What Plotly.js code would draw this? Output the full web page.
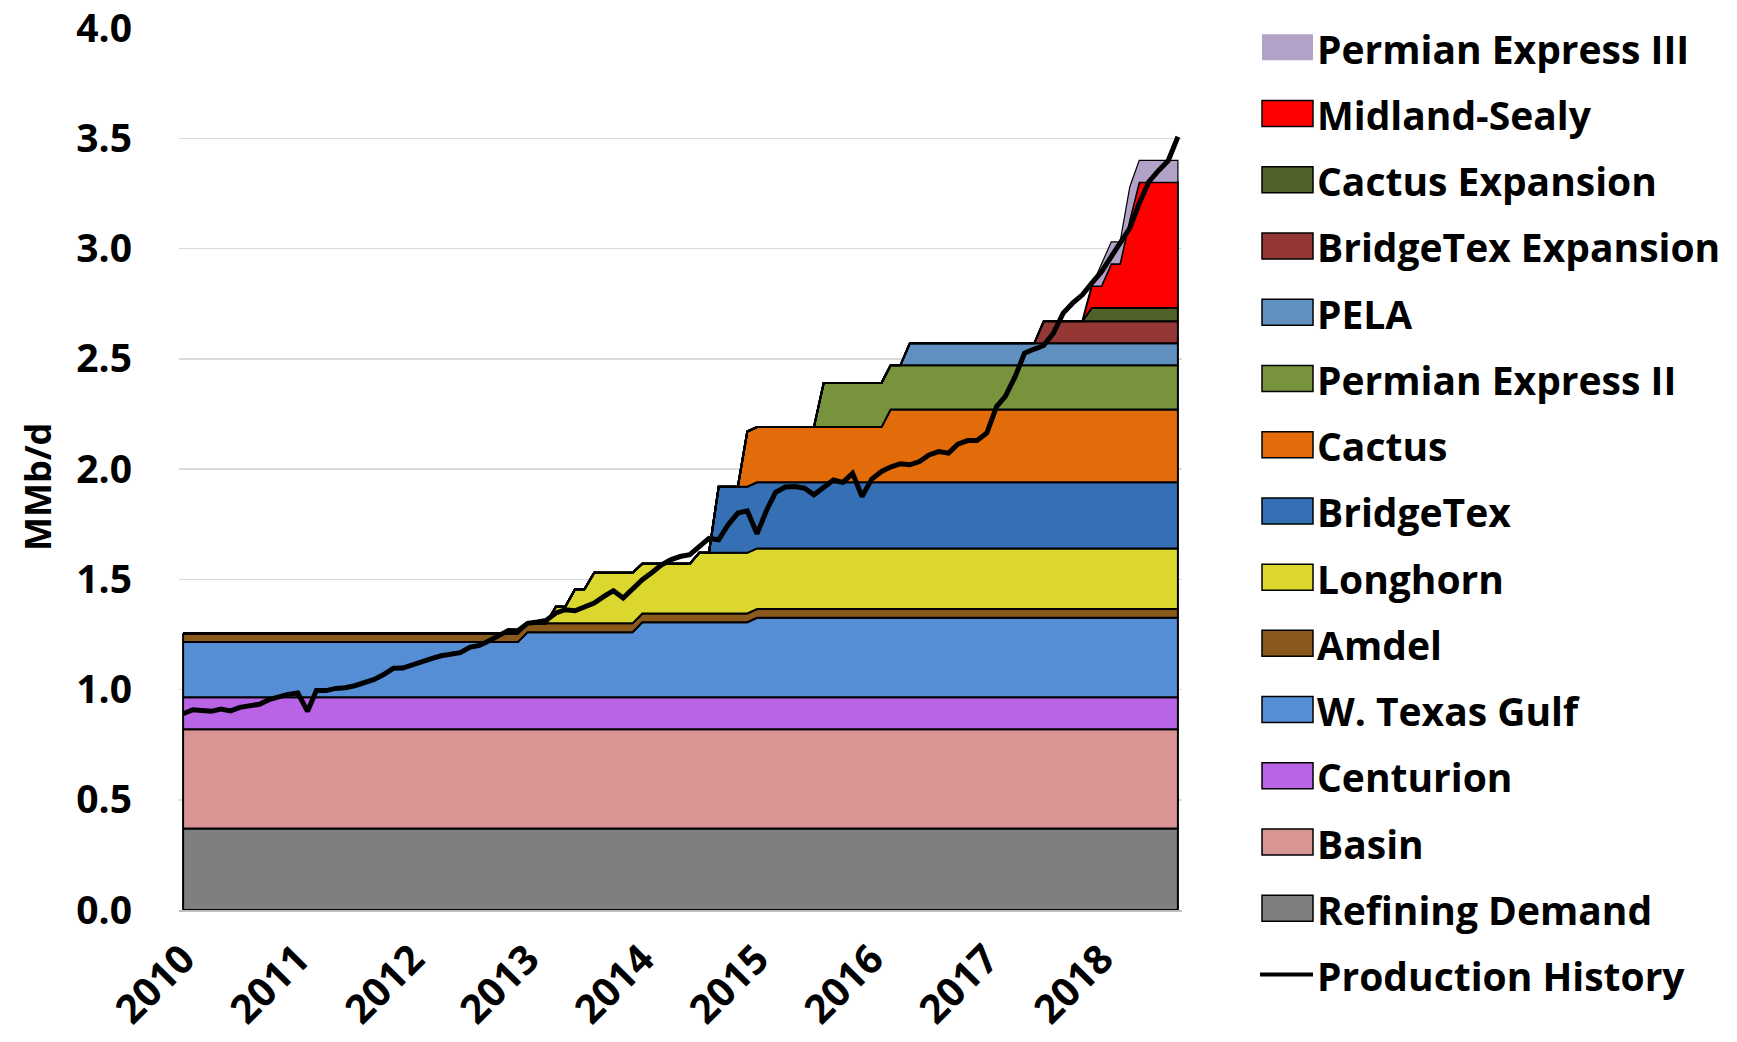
<!DOCTYPE html>
<html>
<head>
<meta charset="utf-8">
<script src="https://cdn.plot.ly/plotly-3.0.1.min.js"></script>
<style>
html,body{margin:0;padding:0;background:#ffffff;}
#chart{width:1737px;height:1042px;}
</style>
</head>
<body>
<div id="chart"></div>
<script>
// ---------- DATA (monthly, Jan 2010 - Sep 2018, MMb/d) ----------
const startYear = 2010;
const monthCount = 105;
const yearLabels = ['2010','2011','2012','2013','2014','2015','2016','2017','2018'];

const refiningDemand = [
 0.37,0.37,0.37,0.37,0.37,0.37,0.37,0.37,0.37,0.37,0.37,0.37,
 0.37,0.37,0.37,0.37,0.37,0.37,0.37,0.37,0.37,0.37,0.37,0.37,
 0.37,0.37,0.37,0.37,0.37,0.37,0.37,0.37,0.37,0.37,0.37,0.37,
 0.37,0.37,0.37,0.37,0.37,0.37,0.37,0.37,0.37,0.37,0.37,0.37,
 0.37,0.37,0.37,0.37,0.37,0.37,0.37,0.37,0.37,0.37,0.37,0.37,
 0.37,0.37,0.37,0.37,0.37,0.37,0.37,0.37,0.37,0.37,0.37,0.37,
 0.37,0.37,0.37,0.37,0.37,0.37,0.37,0.37,0.37,0.37,0.37,0.37,
 0.37,0.37,0.37,0.37,0.37,0.37,0.37,0.37,0.37,0.37,0.37,0.37,
 0.37,0.37,0.37,0.37,0.37,0.37,0.37,0.37,0.37];

const basin = [
 0.45,0.45,0.45,0.45,0.45,0.45,0.45,0.45,0.45,0.45,0.45,0.45,
 0.45,0.45,0.45,0.45,0.45,0.45,0.45,0.45,0.45,0.45,0.45,0.45,
 0.45,0.45,0.45,0.45,0.45,0.45,0.45,0.45,0.45,0.45,0.45,0.45,
 0.45,0.45,0.45,0.45,0.45,0.45,0.45,0.45,0.45,0.45,0.45,0.45,
 0.45,0.45,0.45,0.45,0.45,0.45,0.45,0.45,0.45,0.45,0.45,0.45,
 0.45,0.45,0.45,0.45,0.45,0.45,0.45,0.45,0.45,0.45,0.45,0.45,
 0.45,0.45,0.45,0.45,0.45,0.45,0.45,0.45,0.45,0.45,0.45,0.45,
 0.45,0.45,0.45,0.45,0.45,0.45,0.45,0.45,0.45,0.45,0.45,0.45,
 0.45,0.45,0.45,0.45,0.45,0.45,0.45,0.45,0.45];

const centurion = [
 0.145,0.145,0.145,0.145,0.145,0.145,0.145,0.145,0.145,0.145,0.145,0.145,
 0.145,0.145,0.145,0.145,0.145,0.145,0.145,0.145,0.145,0.145,0.145,0.145,
 0.145,0.145,0.145,0.145,0.145,0.145,0.145,0.145,0.145,0.145,0.145,0.145,
 0.145,0.145,0.145,0.145,0.145,0.145,0.145,0.145,0.145,0.145,0.145,0.145,
 0.145,0.145,0.145,0.145,0.145,0.145,0.145,0.145,0.145,0.145,0.145,0.145,
 0.145,0.145,0.145,0.145,0.145,0.145,0.145,0.145,0.145,0.145,0.145,0.145,
 0.145,0.145,0.145,0.145,0.145,0.145,0.145,0.145,0.145,0.145,0.145,0.145,
 0.145,0.145,0.145,0.145,0.145,0.145,0.145,0.145,0.145,0.145,0.145,0.145,
 0.145,0.145,0.145,0.145,0.145,0.145,0.145,0.145,0.145];

const wTexasGulf = [
 0.25,0.25,0.25,0.25,0.25,0.25,0.25,0.25,0.25,0.25,0.25,0.25,
 0.25,0.25,0.25,0.25,0.25,0.25,0.25,0.25,0.25,0.25,0.25,0.25,
 0.25,0.25,0.25,0.25,0.25,0.25,0.25,0.25,0.25,0.25,0.25,0.25,
 0.295,0.295,0.295,0.295,0.295,0.295,0.295,0.295,0.295,0.295,0.295,0.295,
 0.34,0.34,0.34,0.34,0.34,0.34,0.34,0.34,0.34,0.34,0.34,0.34,
 0.36,0.36,0.36,0.36,0.36,0.36,0.36,0.36,0.36,0.36,0.36,0.36,
 0.36,0.36,0.36,0.36,0.36,0.36,0.36,0.36,0.36,0.36,0.36,0.36,
 0.36,0.36,0.36,0.36,0.36,0.36,0.36,0.36,0.36,0.36,0.36,0.36,
 0.36,0.36,0.36,0.36,0.36,0.36,0.36,0.36,0.36];

const amdel = [
 0.04,0.04,0.04,0.04,0.04,0.04,0.04,0.04,0.04,0.04,0.04,0.04,
 0.04,0.04,0.04,0.04,0.04,0.04,0.04,0.04,0.04,0.04,0.04,0.04,
 0.04,0.04,0.04,0.04,0.04,0.04,0.04,0.04,0.04,0.04,0.04,0.04,
 0.04,0.04,0.04,0.04,0.04,0.04,0.04,0.04,0.04,0.04,0.04,0.04,
 0.04,0.04,0.04,0.04,0.04,0.04,0.04,0.04,0.04,0.04,0.04,0.04,
 0.04,0.04,0.04,0.04,0.04,0.04,0.04,0.04,0.04,0.04,0.04,0.04,
 0.04,0.04,0.04,0.04,0.04,0.04,0.04,0.04,0.04,0.04,0.04,0.04,
 0.04,0.04,0.04,0.04,0.04,0.04,0.04,0.04,0.04,0.04,0.04,0.04,
 0.04,0.04,0.04,0.04,0.04,0.04,0.04,0.04,0.04];

const longhorn = [
 0,0,0,0,0,0,0,0,0,0,0,0,
 0,0,0,0,0,0,0,0,0,0,0,0,
 0,0,0,0,0,0,0,0,0,0,0,0,
 0,0,0,0.075,0.075,0.155,0.155,0.23,0.23,0.23,0.23,0.23,
 0.225,0.225,0.225,0.225,0.225,0.225,0.275,0.275,0.275,0.275,0.275,0.275,
 0.275,0.275,0.275,0.275,0.275,0.275,0.275,0.275,0.275,0.275,0.275,0.275,
 0.275,0.275,0.275,0.275,0.275,0.275,0.275,0.275,0.275,0.275,0.275,0.275,
 0.275,0.275,0.275,0.275,0.275,0.275,0.275,0.275,0.275,0.275,0.275,0.275,
 0.275,0.275,0.275,0.275,0.275,0.275,0.275,0.275,0.275];

const bridgeTex = [
 0,0,0,0,0,0,0,0,0,0,0,0,
 0,0,0,0,0,0,0,0,0,0,0,0,
 0,0,0,0,0,0,0,0,0,0,0,0,
 0,0,0,0,0,0,0,0,0,0,0,0,
 0,0,0,0,0,0,0,0,0.3,0.3,0.3,0.3,
 0.3,0.3,0.3,0.3,0.3,0.3,0.3,0.3,0.3,0.3,0.3,0.3,
 0.3,0.3,0.3,0.3,0.3,0.3,0.3,0.3,0.3,0.3,0.3,0.3,
 0.3,0.3,0.3,0.3,0.3,0.3,0.3,0.3,0.3,0.3,0.3,0.3,
 0.3,0.3,0.3,0.3,0.3,0.3,0.3,0.3,0.3];

const cactus = [
 0,0,0,0,0,0,0,0,0,0,0,0,
 0,0,0,0,0,0,0,0,0,0,0,0,
 0,0,0,0,0,0,0,0,0,0,0,0,
 0,0,0,0,0,0,0,0,0,0,0,0,
 0,0,0,0,0,0,0,0,0,0,0,0.25,
 0.25,0.25,0.25,0.25,0.25,0.25,0.25,0.25,0.25,0.25,0.25,0.25,
 0.25,0.25,0.33,0.33,0.33,0.33,0.33,0.33,0.33,0.33,0.33,0.33,
 0.33,0.33,0.33,0.33,0.33,0.33,0.33,0.33,0.33,0.33,0.33,0.33,
 0.33,0.33,0.33,0.33,0.33,0.33,0.33,0.33,0.33];

const permianExpressII = [
 0,0,0,0,0,0,0,0,0,0,0,0,
 0,0,0,0,0,0,0,0,0,0,0,0,
 0,0,0,0,0,0,0,0,0,0,0,0,
 0,0,0,0,0,0,0,0,0,0,0,0,
 0,0,0,0,0,0,0,0,0,0,0,0,
 0,0,0,0,0,0,0,0.2,0.2,0.2,0.2,0.2,
 0.2,0.2,0.2,0.2,0.2,0.2,0.2,0.2,0.2,0.2,0.2,0.2,
 0.2,0.2,0.2,0.2,0.2,0.2,0.2,0.2,0.2,0.2,0.2,0.2,
 0.2,0.2,0.2,0.2,0.2,0.2,0.2,0.2,0.2];

const pela = [
 0,0,0,0,0,0,0,0,0,0,0,0,
 0,0,0,0,0,0,0,0,0,0,0,0,
 0,0,0,0,0,0,0,0,0,0,0,0,
 0,0,0,0,0,0,0,0,0,0,0,0,
 0,0,0,0,0,0,0,0,0,0,0,0,
 0,0,0,0,0,0,0,0,0,0,0,0,
 0,0,0,0,0.1,0.1,0.1,0.1,0.1,0.1,0.1,0.1,
 0.1,0.1,0.1,0.1,0.1,0.1,0.1,0.1,0.1,0.1,0.1,0.1,
 0.1,0.1,0.1,0.1,0.1,0.1,0.1,0.1,0.1];

const bridgeTexExpansion = [
 0,0,0,0,0,0,0,0,0,0,0,0,
 0,0,0,0,0,0,0,0,0,0,0,0,
 0,0,0,0,0,0,0,0,0,0,0,0,
 0,0,0,0,0,0,0,0,0,0,0,0,
 0,0,0,0,0,0,0,0,0,0,0,0,
 0,0,0,0,0,0,0,0,0,0,0,0,
 0,0,0,0,0,0,0,0,0,0,0,0,
 0,0,0,0,0,0,0.1,0.1,0.1,0.1,0.1,0.1,
 0.1,0.1,0.1,0.1,0.1,0.1,0.1,0.1,0.1];

const cactusExpansion = [
 0,0,0,0,0,0,0,0,0,0,0,0,
 0,0,0,0,0,0,0,0,0,0,0,0,
 0,0,0,0,0,0,0,0,0,0,0,0,
 0,0,0,0,0,0,0,0,0,0,0,0,
 0,0,0,0,0,0,0,0,0,0,0,0,
 0,0,0,0,0,0,0,0,0,0,0,0,
 0,0,0,0,0,0,0,0,0,0,0,0,
 0,0,0,0,0,0,0,0,0,0,0,0.06,
 0.06,0.06,0.06,0.06,0.06,0.06,0.06,0.06,0.06];

const midlandSealy = [
 0,0,0,0,0,0,0,0,0,0,0,0,
 0,0,0,0,0,0,0,0,0,0,0,0,
 0,0,0,0,0,0,0,0,0,0,0,0,
 0,0,0,0,0,0,0,0,0,0,0,0,
 0,0,0,0,0,0,0,0,0,0,0,0,
 0,0,0,0,0,0,0,0,0,0,0,0,
 0,0,0,0,0,0,0,0,0,0,0,0,
 0,0,0,0,0,0,0,0,0,0,0,0.1,
 0.1,0.2,0.2,0.4,0.57,0.57,0.57,0.57,0.57];

const permianExpressIII = [
 0,0,0,0,0,0,0,0,0,0,0,0,
 0,0,0,0,0,0,0,0,0,0,0,0,
 0,0,0,0,0,0,0,0,0,0,0,0,
 0,0,0,0,0,0,0,0,0,0,0,0,
 0,0,0,0,0,0,0,0,0,0,0,0,
 0,0,0,0,0,0,0,0,0,0,0,0,
 0,0,0,0,0,0,0,0,0,0,0,0,
 0,0,0,0,0,0,0,0,0,0,0,0,
 0.1,0.1,0.1,0.15,0.1,0.1,0.1,0.1,0.1];

const productionHistory = [
 0.89,0.908,0.905,0.901,0.911,0.903,0.919,0.926,0.933,0.954,0.969,0.978,
 0.984,0.901,0.995,0.995,1.005,1.008,1.017,1.032,1.046,1.068,1.096,1.097,
 1.112,1.13,1.14,1.153,1.159,1.167,1.191,1.2,1.221,1.244,1.268,1.266,
 1.3,1.306,1.313,1.347,1.362,1.357,1.377,1.392,1.422,1.448,1.415,1.455,
 1.498,1.531,1.563,1.588,1.603,1.611,1.649,1.685,1.679,1.747,1.8,1.81,
 1.706,1.815,1.894,1.918,1.921,1.913,1.883,1.918,1.95,1.939,1.98,1.875,
 1.954,1.989,2.009,2.024,2.019,2.034,2.064,2.079,2.072,2.113,2.129,2.129,
 2.163,2.283,2.329,2.419,2.525,2.544,2.56,2.616,2.707,2.752,2.79,2.843,
 2.895,2.963,3.024,3.092,3.205,3.303,3.353,3.398,3.507];

// ---------- BUILD ----------
const months = [];
for (let i = 0; i < monthCount; i++) {
  const y = startYear + Math.floor(i / 12);
  const m = (i % 12) + 1;
  months.push(y + '-' + String(m).padStart(2, '0') + '-01');
}
const yearTickVals = yearLabels.map(y => y + '-01-01');

const series = [
  {name: 'Refining Demand',     values: refiningDemand,     color: '#7f7f7f', lw: 2, border: true},
  {name: 'Basin',               values: basin,              color: '#d99594', lw: 2, border: true},
  {name: 'Centurion',           values: centurion,          color: '#b964e6', lw: 2, border: true},
  {name: 'W. Texas Gulf',       values: wTexasGulf,         color: '#558ed5', lw: 2, border: true},
  {name: 'Amdel',               values: amdel,              color: '#8a5a1c', lw: 2, border: true},
  {name: 'Longhorn',            values: longhorn,           color: '#dcd72e', lw: 2, border: true},
  {name: 'BridgeTex',           values: bridgeTex,          color: '#3670b4', lw: 2, border: true},
  {name: 'Cactus',              values: cactus,             color: '#e36c0a', lw: 2, border: true},
  {name: 'Permian Express II',  values: permianExpressII,   color: '#77933c', lw: 2, border: true},
  {name: 'PELA',                values: pela,               color: '#6090c0', lw: 2, border: true},
  {name: 'BridgeTex Expansion', values: bridgeTexExpansion, color: '#953735', lw: 2, border: true},
  {name: 'Cactus Expansion',    values: cactusExpansion,    color: '#4f6228', lw: 2, border: true},
  {name: 'Midland-Sealy',       values: midlandSealy,       color: '#ff0000', lw: 2, border: true},
  {name: 'Permian Express III', values: permianExpressIII,  color: '#b3a2c7', lw: 1.2, border: false}
];

const traces = [];
let base = months.map(() => 0);
series.forEach(s => {
  const top = base.map((b, i) => b + s.values[i]);
  const xs = months.concat(months.slice().reverse(), [months[0]]);
  const ys = top.concat(base.slice().reverse(), [top[0]]);
  traces.push({
    type: 'scatter', mode: 'lines', x: xs, y: ys,
    fill: 'toself', fillcolor: s.color,
    line: {color: '#000000', width: s.lw, shape: 'linear'},
    name: s.name, showlegend: false, hoverinfo: 'skip'
  });
  base = top;
});
traces.push({
  type: 'scatter', mode: 'lines', x: months, y: productionHistory,
  line: {color: '#000000', width: 5},
  name: 'Production History', showlegend: false
});

// ---------- LAYOUT ----------
const W = 1737, H = 1042;
const plotL = 179, plotR = 1182, plotT = 28, plotB = 910;
const px2x = px => (px - plotL) / (plotR - plotL);
const px2y = py => (plotB - py) / (plotB - plotT);

const fontFam = '"Open Sans", "Noto Sans", sans-serif';
const shapes = [];
const annotations = [];

// legend (top to bottom: reversed stack, then production line)
const legendItems = series.slice().reverse().map(s => ({name: s.name, color: s.color, border: s.border, kind: 'box'}));
legendItems.push({name: 'Production History', kind: 'line'});
const rowTop = 47.3, rowStep = 66.23;
legendItems.forEach((it, i) => {
  const yc = rowTop + rowStep * i;
  if (it.kind === 'box') {
    shapes.push({
      type: 'rect', xref: 'paper', yref: 'paper',
      x0: px2x(1262), x1: px2x(1313), y0: px2y(yc + 13), y1: px2y(yc - 13),
      fillcolor: it.color,
      line: {color: it.border ? '#000000' : it.color, width: it.border ? 1.5 : 0}
    });
  } else {
    shapes.push({
      type: 'line', xref: 'paper', yref: 'paper',
      x0: px2x(1260), x1: px2x(1313), y0: px2y(yc), y1: px2y(yc),
      line: {color: '#000000', width: 4}
    });
  }
  annotations.push({
    xref: 'paper', yref: 'paper', x: px2x(1315), y: px2y(yc + 1),
    xanchor: 'left', yanchor: 'middle', showarrow: false,
    text: it.name,
    font: {family: fontFam, size: 39, color: '#000000', weight: 'bold'}
  });
});

// y-axis title
annotations.push({
  xref: 'paper', yref: 'paper', x: px2x(37), y: px2y(487),
  xanchor: 'center', yanchor: 'middle', showarrow: false, textangle: -90,
  text: 'MMb/d',
  font: {family: fontFam, size: 36, color: '#000000', weight: 'bold'}
});

const layout = {
  width: W, height: H,
  margin: {l: plotL, r: W - plotR, t: plotT, b: H - plotB, pad: 0},
  paper_bgcolor: '#ffffff', plot_bgcolor: '#ffffff',
  showlegend: false,
  font: {family: fontFam, color: '#000000'},
  xaxis: {
    type: 'date',
    range: ['2009-12-19', '2018-09-14'],
    tickmode: 'array', tickvals: yearTickVals, ticktext: yearLabels,
    tickangle: -45,
    tickfont: {family: fontFam, size: 40, color: '#000000', weight: 'bold'},
    showgrid: false, zeroline: false,
    showline: true, linecolor: '#bfbfbf', linewidth: 1.5,
    ticks: '', ticklabelstandoff: 8, ticklabeloverflow: 'allow',
    automargin: false, fixedrange: true
  },
  yaxis: {
    range: [0, 4],
    tickmode: 'linear', tick0: 0, dtick: 0.5, tickformat: '.1f',
    tickfont: {family: fontFam, size: 39, color: '#000000', weight: 'bold'},
    showgrid: true, gridcolor: '#d9d9d9', gridwidth: 1.5,
    zeroline: false, showline: false, ticks: '',
    ticklabelstandoff: 46, ticklabeloverflow: 'allow',
    automargin: false, fixedrange: true
  },
  shapes: shapes,
  annotations: annotations
};

Plotly.newPlot('chart', traces, layout, {displayModeBar: false, staticPlot: true});
</script>
</body>
</html>
